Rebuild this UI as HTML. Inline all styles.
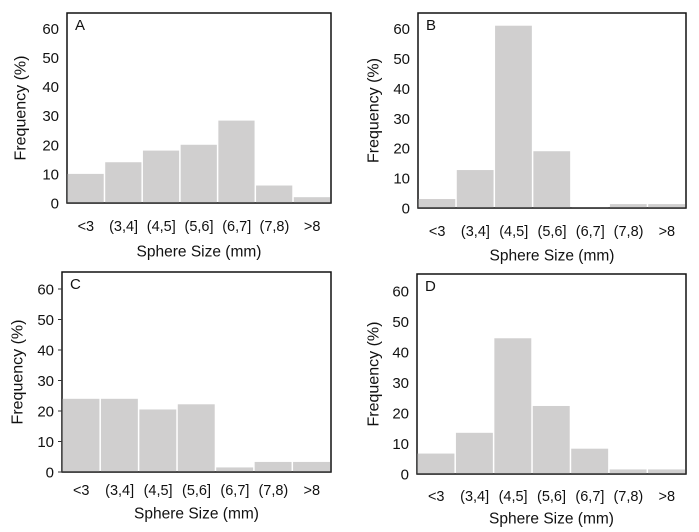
<!DOCTYPE html>
<html><head><meta charset="utf-8"><style>
body{margin:0;background:#fff;width:699px;height:532px;overflow:hidden}
svg{display:block;font-family:"Liberation Sans",sans-serif}
</style></head><body>
<svg id="c" width="699" height="532"></svg>
<script>
const categories = ["<3","(3,4]","(4,5]","(5,6]","(6,7]","(7,8)",">8"];
const yTicks = [0,10,20,30,40,50,60];
const valuesA = [10,14,18,20,28.3,6,2];
const valuesB = [3,12.7,61,19,0.3,1.3,1.3];
const valuesC = [24,24,20.5,22.2,1.5,3.3,3.3];
const valuesD = [6.7,13.5,44.5,22.3,8.3,1.5,1.5];
const panelLabels = ["A","B","C","D"];
const layouts = [
 {l:67,t:13,r:331,z:203,y60:28.3,xl:226,xt:251,yt:20,tick:false},
 {l:418,t:13,r:686,z:208,y60:28.7,xl:231,xt:255,yt:373,tick:false},
 {l:62,t:272,r:331,z:472,y60:289,xl:490,xt:513,yt:17,tick:true},
 {l:417,t:274,r:686,z:474,y60:291,xl:496,xt:518,yt:373,tick:false}
];
const allValues=[valuesA,valuesB,valuesC,valuesD];
const svg=document.getElementById('c');
const NS="http://www.w3.org/2000/svg";
function mk(tag,attrs,parent){const e=document.createElementNS(NS,tag);for(const k in attrs)e.setAttribute(k,attrs[k]);parent.appendChild(e);return e;}
allValues.forEach((vals,p)=>{
 const L=layouts[p];
 const g=mk('g',{},svg);
 
 
 const y=v=>L.z-(L.z-L.y60)*v/60;
 const bw=(L.r-L.l)/categories.length;
 const x=i=>L.l+i*bw;
 const frame=mk('rect',{x:L.l,y:L.t,width:L.r-L.l,height:L.z-L.t,fill:'none',stroke:'#111','stroke-width':1.5},g);
 
 
 vals.forEach((v,i)=>{
  const b=mk('rect',{x:x(i)+0.5,y:y(v),width:bw-1.5,height:L.z-y(v),fill:'#d0cfcf'},g);
  
  
  const t=mk('text',{x:x(i)+bw/2,y:L.xl+5,'text-anchor':'middle','font-size':14.5,fill:'#111'},g);
  t.textContent=categories[i];
  
  
 });
 const ax=mk('line',{x1:L.l,x2:L.r,y1:L.z,y2:L.z,stroke:'#333','stroke-width':1.5},g);
 
 
 yTicks.forEach(v=>{
  const t=mk('text',{x:L.l-8,y:y(v)+5.5,'text-anchor':'end','font-size':15,fill:'#111'},g);
  t.textContent=v;
  
  
  if(L.tick){const tk=mk('line',{x1:L.l-4,x2:L.l,y1:y(v),y2:y(v),stroke:'#333'},g);
   
   }
 });
 const pl=mk('text',{x:L.l+8,y:L.t+17,'font-size':15,fill:'#111'},g);
 pl.textContent=panelLabels[p];
 
 
 const xt=mk('text',{x:(L.l+L.r)/2,y:L.xt+5.5,'text-anchor':'middle','font-size':15.5,fill:'#111'},g);
 xt.textContent='Sphere Size (mm)';
 
 
 const cy=(L.t+L.z)/2;
 const yt=mk('text',{x:L.yt+5.5,y:cy,'text-anchor':'middle','font-size':16,fill:'#111',transform:`rotate(-90 ${L.yt+5.5} ${cy})`},g);
 yt.textContent='Frequency (%)';
 
 
});
</script>
</body></html>
